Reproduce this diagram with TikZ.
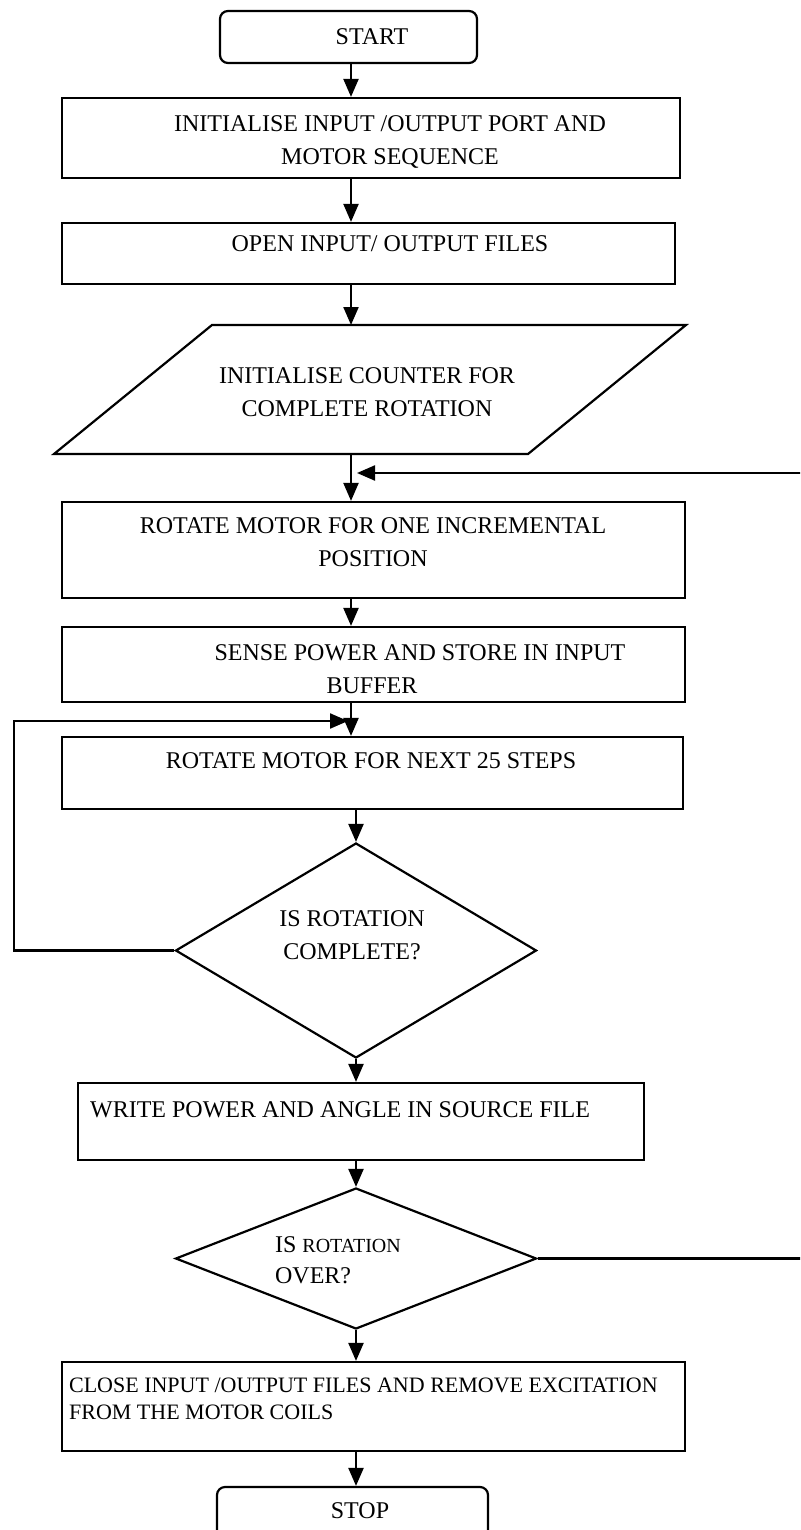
\documentclass[tikz,border=0pt]{standalone}
\usepackage{fontspec}
\setmainfont{Liberation Serif}
\usetikzlibrary{arrows.meta,shapes.geometric}
\newcommand{\ctr}[1]{\begin{tabular}[t]{@{}c@{}}#1\end{tabular}}
\newcommand{\lft}[1]{\begin{tabular}[t]{@{}l@{}}#1\end{tabular}}
\begin{document}
\begin{tikzpicture}[x=0.5pt,y=-0.5pt, line width=1.1pt,
  box/.style={draw, rectangle, inner sep=0pt},
  term/.style={draw, rectangle, rounded corners=4pt, inner sep=0pt},
  dec/.style={draw, diamond, inner sep=0pt},
  txt/.style={inner sep=0pt, anchor=base, font=\fontsize{12}{16.5}\selectfont},
  txtl/.style={txt, anchor=base west},
  arr/.style={-{Triangle[length=9pt,width=7.5pt]}}]
\path[use as bounding box, clip] (0,0) rectangle (800,1530);

% shapes
\node[term, minimum width=128.5pt, minimum height=26pt] (start) at (348.5,37) {};
\node[txt] (tstart) at (372,45) {START};

\node[box, minimum width=309pt, minimum height=40pt] (b1) at (371,138) {};
\node[txt] (t1) at (390,132) {\ctr{INITIALISE INPUT /OUTPUT PORT AND\\MOTOR SEQUENCE}};

\node[box, minimum width=306.5pt, minimum height=30.5pt] (b2) at (368.5,253.5) {};
\node[txt] (t2) at (390,251) {OPEN INPUT/ OUTPUT FILES};

\coordinate (p1) at (212,325);
\coordinate (p2) at (686,325);
\coordinate (p3) at (528,454);
\coordinate (p4) at (54,454);
\draw (p1) -- (p2) -- (p3) -- (p4) -- cycle;
\coordinate (ptop) at (351,325);
\coordinate (pbot) at (351,454);
\node[txt] (t3) at (367,383) {\ctr{INITIALISE COUNTER FOR\\COMPLETE ROTATION}};

\node[box, minimum width=311.5pt, minimum height=48pt] (b3) at (373.5,550) {};
\node[txt] (t4) at (373,533) {\ctr{ROTATE MOTOR FOR ONE INCREMENTAL\\POSITION}};

\node[box, minimum width=311.5pt, minimum height=37.5pt] (b4) at (373.5,664.5) {};
\node[txt] (t5) at (372,660) {\ctr{\hspace*{48pt}SENSE POWER AND STORE IN INPUT\\BUFFER}};

\node[box, minimum width=310.5pt, minimum height=36pt] (b5) at (372.5,773) {};
\node[txt] (t6) at (371,768) {ROTATE MOTOR FOR NEXT 25 STEPS};

\node[dec, minimum width=180.5pt, minimum height=107.5pt] (d1) at (356,950.5) {};
\node[txt] (t7) at (352,926) {\ctr{IS ROTATION\\COMPLETE?}};

\node[box, minimum width=283pt, minimum height=38.5pt] (b6) at (361,1121.5) {};
\node[txtl] (t8) at (89,1117) {WRITE POWER AND ANGLE IN SOURCE FILE};

\node[dec, minimum width=180.5pt, minimum height=70.5pt] (d2) at (356,1258.5) {};
\node[txtl, font=\fontsize{12}{15.5}\selectfont] (t9) at (274,1252) {\lft{IS {\fontsize{10}{12}\selectfont ROTATION}\\OVER?}};

\node[box, minimum width=311.5pt, minimum height=44.5pt] (b7) at (373.5,1406.5) {};
\node[txtl, font=\fontsize{11}{13.5}\selectfont] (t10) at (68,1392) {\lft{CLOSE INPUT /OUTPUT FILES AND REMOVE EXCITATION\\FROM THE MOTOR COILS}};

\node[term, minimum width=135.5pt, minimum height=31.5pt] (stop) at (352.5,1518.5) {};
\node[txt] (t11) at (360,1518) {STOP};

% connectors
\coordinate (ca) at (351,0);
\coordinate (lx) at (14,0);
\coordinate (jl) at (348,721);
\coordinate (jr) at (357,473);
\draw[arr] (start.south -| ca) -- (b1.north -| ca);
\draw[arr] (b1.south -| ca) -- (b2.north -| ca);
\draw[arr] (b2.south -| ca) -- (ptop);
\draw[arr] (pbot) -- (b3.north -| ca);
\draw[arr] (b3.south -| ca) -- (b4.north -| ca);
\draw[arr] (b4.south -| ca) -- (b5.north -| ca);
\draw[arr] (b5.south -| d1.north) -- (d1.north);
\draw[arr] (d1.south) -- (b6.north -| d1.south);
\draw[arr] (b6.south -| d2.north) -- (d2.north);
\draw[arr] (d2.south) -- (b7.north -| d2.south);
\draw[arr] (b7.south -| d2.south) -- (stop.north -| d2.south);
\draw[arr] (d1.west) -- (d1.west -| lx) |- (jl);
\draw[arr] (d2.east) -- ++(300,0) |- (jr);
\end{tikzpicture}
\end{document}
